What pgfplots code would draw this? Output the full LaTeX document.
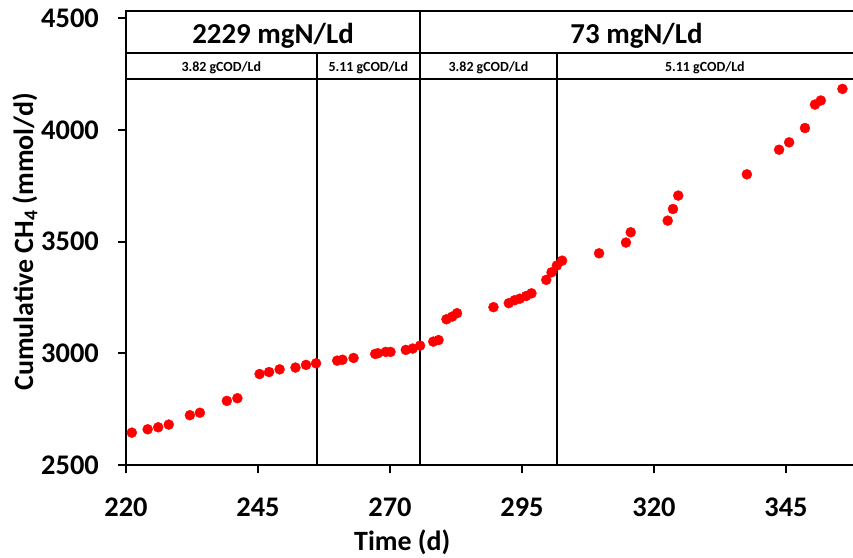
\documentclass[border=0pt]{standalone}
\usepackage{fontspec}
\setmainfont{Carlito}
\usepackage{pgfplots}
\pgfplotsset{compat=1.18}

\pgfplotstableread{
x y
221.1 2646
224.1 2661
226.1 2670
228.1 2682
232.1 2724
234.0 2735
239.1 2788
241.1 2800
245.3 2908
247.1 2917
249.1 2929
252.1 2937
254.1 2949
256.0 2956
260.0 2968
261.0 2972
263.1 2980
267.2 2998
267.7 3001
269.2 3007
270.1 3007
273.0 3016
274.3 3022
275.7 3035
278.2 3053
279.2 3060
280.7 3153
281.8 3165
282.7 3180
289.6 3207
292.5 3225
293.6 3238
294.6 3245
295.8 3257
296.8 3269
299.6 3329
300.6 3363
301.6 3393
302.6 3415
309.6 3448
314.7 3496
315.6 3542
322.6 3594
323.6 3646
324.6 3706
337.6 3801
343.7 3911
345.6 3944
348.6 4008
350.5 4113
351.6 4131
355.7 4183
}\methane

\begin{document}
\begin{tikzpicture}
\path[use as bounding box] (-126bp,-92.7bp) rectangle (727bp,465.3bp);
\begin{axis}[
    at={(0,0)}, anchor=south west,
    scale only axis, width=727bp, height=447.3bp,
    xmin=220, xmax=357.7, ymin=2500, ymax=4500,
    axis x line=bottom, axis y line=left,
    axis line style={-, line width=2bp},
    xtick={220,245,...,345}, ytick={2500,3000,...,4500},
    tick align=outside, major tick length=8bp,
    tick style={line width=2bp, black},
    ticklabel style={font=\fontsize{28.5}{32}\selectfont\bfseries, inner sep=0pt},
    xticklabel style={anchor=north, yshift=-24bp},
    yticklabel style={anchor=east, xshift=-19bp},
    /pgf/number format/assume math mode=true,
    /pgf/number format/1000 sep={},
    xlabel={Time (d)},
    ylabel={Cumulative CH\textsubscript{4} (mmol/d)},
    label style={font=\fontsize{28}{32}\selectfont\bfseries},
    xlabel style={at={(axis description cs:0.38,-0.1715)}, anchor=center},
    ylabel style={at={(axis description cs:-0.139,0.5)}, anchor=center},
    clip=false,
  ]
  \addplot[only marks, mark=*, mark size=5bp, color=red] table {\methane};

  % header boxes
  \draw[line width=2bp] (220,4500) -- (220,4532) -- (357.7,4532);
  \draw[line width=2bp] (220,4343) -- (357.7,4343);
  \draw[line width=2bp] (220,4228) -- (357.7,4228);
  \draw[line width=2bp] (256.1,2500) -- (256.1,4343);
  \draw[line width=2bp] (275.7,2500) -- (275.7,4532);
  \draw[line width=2bp] (301.6,2500) -- (301.6,4343);

  \tikzset{big/.style={font=\fontsize{29}{32}\selectfont\bfseries, anchor=base, inner sep=0pt},
           small/.style={font=\fontsize{14}{16}\selectfont\bfseries, anchor=base, inner sep=0pt}}
  \node[big] at (247.85,4387) {2229 mgN/Ld};
  \node[big] at (316.7,4387) {73 mgN/Ld};
  \node[small] at (238.05,4260) {3.82 gCOD/Ld};
  \node[small] at (265.9,4260) {5.11 gCOD/Ld};
  \node[small] at (288.65,4260) {3.82 gCOD/Ld};
  \node[small] at (329.65,4260) {5.11 gCOD/Ld};
\end{axis}
\end{tikzpicture}
\end{document}
